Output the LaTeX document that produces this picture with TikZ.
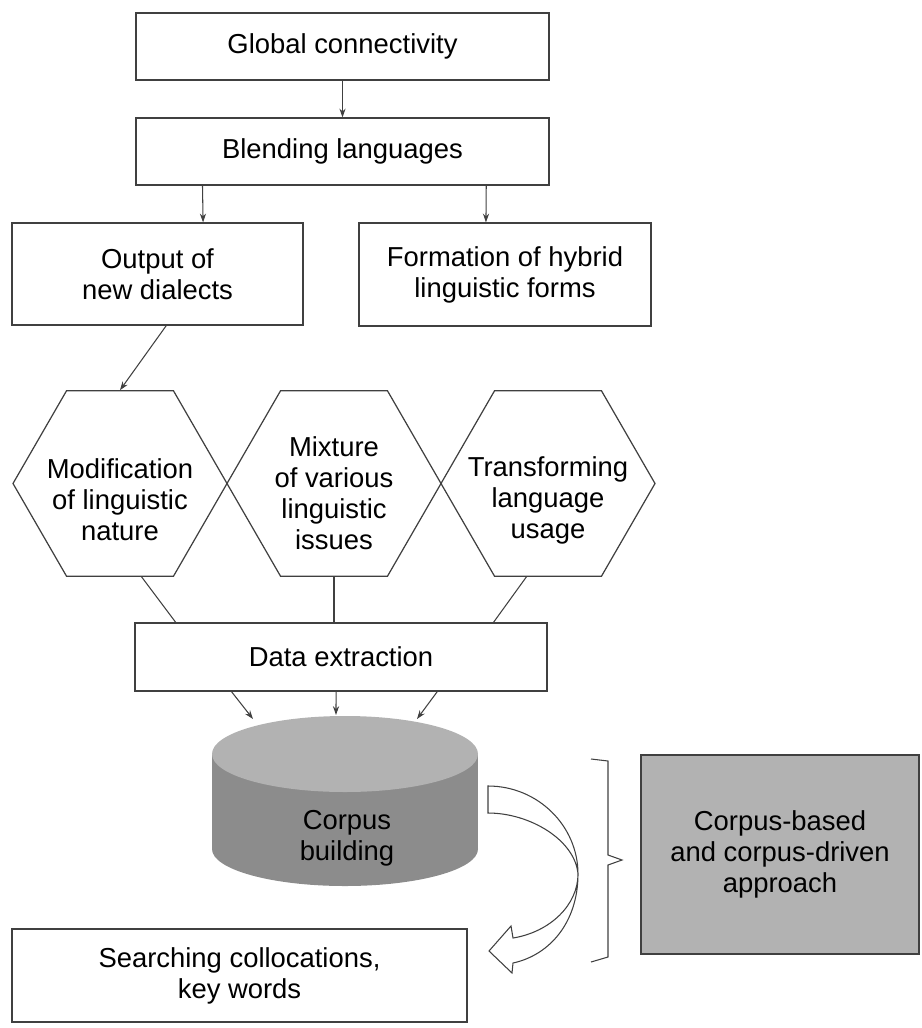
\documentclass[tikz,border=0pt]{standalone}
\usepackage{fontspec}
\setmainfont{Liberation Sans}
\usetikzlibrary{shapes.geometric, arrows.meta, calc}

\definecolor{topgray}{gray}{0.70}
\definecolor{sidegray}{gray}{0.55}
\definecolor{boxgray}{gray}{0.70}
\definecolor{linegray}{gray}{0.25}

\tikzset{
  box/.style = {draw = linegray, line width = 0.7pt, align = center, inner sep = 2pt},
  hexa/.style = {draw = linegray, line width = 0.7pt, regular polygon, regular polygon sides = 6, minimum size = 4.28cm, inner sep = 0pt},
  conn/.style = {linegray, line width = 0.6pt},
  >={Stealth[length = 5pt, width = 3.5pt]}
}

\begin{document}
\begin{tikzpicture}[x = 0.2mm, y = -0.2mm, font = \fontsize{15.6}{17.6}\selectfont]
\useasboundingbox (0, 0) rectangle (921, 1028);

\node[box, minimum width = 8.26cm, minimum height = 1.34cm] (gc) at (342.5, 46.5) {Global connectivity};
\node[box, minimum width = 8.26cm, minimum height = 1.34cm] (bl) at (342.5, 151.5) {Blending languages};
\node[box, minimum width = 5.82cm, minimum height = 2.04cm] (out) at (157.5, 274) {Output of\\new dialects};
\node[box, minimum width = 5.84cm, minimum height = 2.06cm] (form) at (505, 274.5) {Formation of hybrid\\linguistic forms};

\draw[conn, ->] (gc.south) -- (bl.north);
\draw[conn, ->] ($(bl.south west)!0.162!(bl.south east)$) -- ($(out.north west)!0.656!(out.north east)$);
\draw[conn, ->] ($(bl.south west)!0.847!(bl.south east)$) -- ($(form.north west)!0.435!(form.north east)$);

\node[hexa] (mod) at (120, 483.5) {};
\node[hexa] (mix) at (334, 483.5) {};
\node[hexa] (trans) at (548, 483.5) {};
\node[align = center] (modtxt) at (120, 500) {Modification\\of linguistic\\nature};
\node[align = center] (mixtxt) at (334, 493) {Mixture\\of various\\linguistic\\issues};
\node[align = center] (transtxt) at (548, 500) {Transforming\\language\\usage};

\draw[conn, ->] ($(out.south west)!0.53!(out.south east)$) -- (mod.north);

\node[box, minimum width = 8.24cm, minimum height = 1.36cm] (dex) at (341, 657) {Data extraction};

\draw[conn] (mod.-77) -- ($(dex.north west)!0.1!(dex.north east)$);
\draw[conn] (mix.south) -- (mix.south |- dex.north);
\draw[conn] (trans.-103) -- ($(dex.north west)!0.869!(dex.north east)$);

\fill[sidegray] (345, 849) ellipse [x radius = 26.6mm, y radius = 7.4mm];
\fill[sidegray] (212, 754) rectangle (478, 849);
\fill[topgray] (345, 754) ellipse [x radius = 26.6mm, y radius = 7.6mm];
\node[align = center] (corpus) at (347, 838) {Corpus\\building};

\coordinate (cl) at (253, 719);
\coordinate (cm) at (336, 715);
\coordinate (cr) at (417, 719);
\draw[conn, ->] ($(dex.south west)!0.235!(dex.south east)$) -- (cl);
\draw[conn, ->] ($(dex.south west)!0.488!(dex.south east)$) -- (cm);
\draw[conn, ->] ($(dex.south west)!0.733!(dex.south east)$) -- (cr);

\node[box, fill = boxgray, minimum width = 5.56cm, minimum height = 3.98cm] (appr) at (780, 854.5) {Corpus-based\\and corpus-driven\\approach};
\node[box, minimum width = 9.1cm, minimum height = 1.86cm] (search) at (239.5, 975.5) {Searching collocations,\\key words};

\draw[conn] (591, 759) -- (608, 761) -- (608, 855) -- (622, 860) -- (608, 865) -- (608, 957) -- (591, 962);

\draw[conn, fill = white] (488, 786) .. controls (538, 786) and (578, 826) .. (578, 874)
  .. controls (578, 922) and (550, 955) .. (513, 963) -- (512, 973) -- (489, 951) -- (511, 926) -- (513, 938)
  .. controls (550, 932) and (578, 905) .. (578, 874)
  .. controls (575, 840) and (530, 813) .. (488, 813) -- cycle;

\end{tikzpicture}
\end{document}
